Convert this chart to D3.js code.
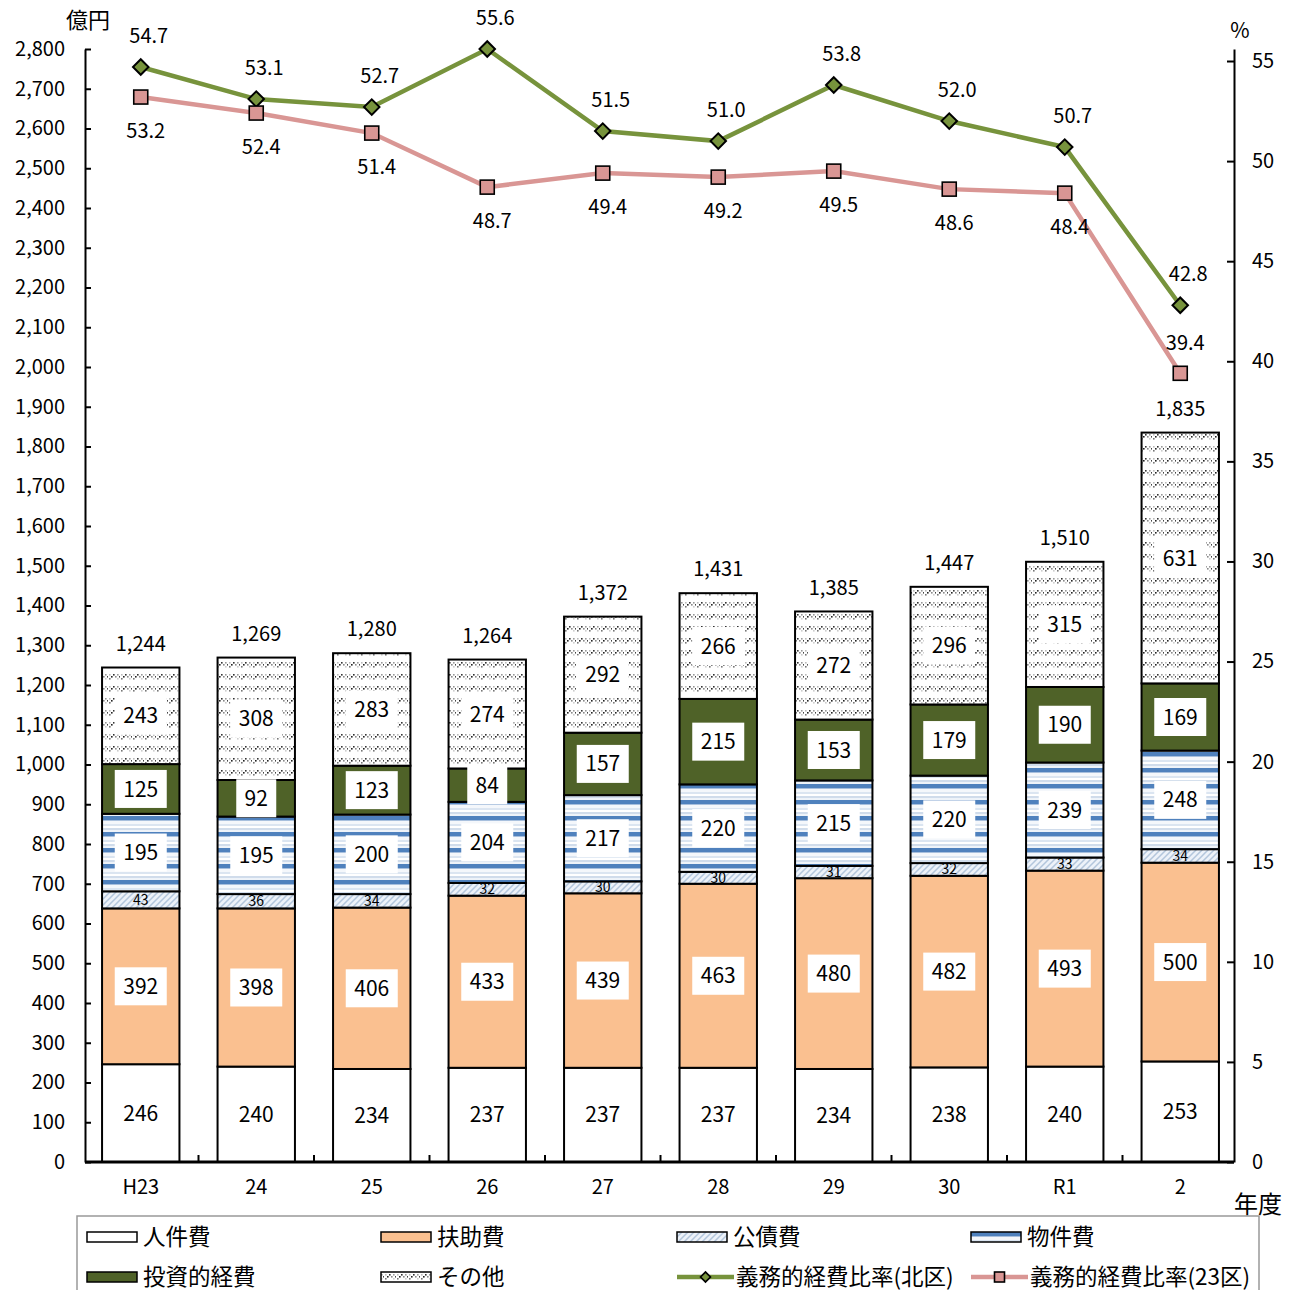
<!DOCTYPE html>
<html lang="ja">
<head>
<meta charset="utf-8">
<script src="https://cdn.jsdelivr.net/npm/d3@7"></script>
<style>
  html, body { margin: 0; padding: 0; background: #fff; }
  svg { display: block; font-family: "Noto Sans CJK JP", "Noto Sans", sans-serif; }
</style>
</head>
<body>
<svg id="chart" width="1297" height="1290"></svg>
<script>
// 年度
const years = ["H23", "24", "25", "26", "27", "28", "29", "30", "R1", "2"];

// 歳出の内訳（億円）
const personnel   = [246, 240, 234, 237, 237, 237, 234, 238, 240, 253]; // 人件費
const assistance  = [392, 398, 406, 433, 439, 463, 480, 482, 493, 500]; // 扶助費
const debtService = [43, 36, 34, 32, 30, 30, 31, 32, 33, 34];           // 公債費
const goods       = [195, 195, 200, 204, 217, 220, 215, 220, 239, 248]; // 物件費
const investment  = [125, 92, 123, 84, 157, 215, 153, 179, 190, 169];   // 投資的経費
const others      = [243, 308, 283, 274, 292, 266, 272, 296, 315, 631]; // その他
const totals      = [1244, 1269, 1280, 1264, 1372, 1431, 1385, 1447, 1510, 1835];

// 義務的経費比率（%）
const ratioKita = [54.7, 53.1, 52.7, 55.6, 51.5, 51.0, 53.8, 52.0, 50.7, 42.8];
const ratio23   = [53.2, 52.4, 51.4, 48.7, 49.4, 49.2, 49.5, 48.6, 48.4, 39.4];

// 軸目盛
const leftTicks  = d3.range(0, 2801, 100);
const rightTicks = [0, 5, 10, 15, 20, 25, 30, 35, 40, 45, 50, 55];

const svg = d3.select("#chart");
const defs = svg.append("defs");

// ---- fill patterns ----
// 公債費: pale blue diagonal hatch
const pDebt = defs.append("pattern").attr("id", "pat-debt")
  .attr("patternUnits", "userSpaceOnUse").attr("width", 6).attr("height", 6);
pDebt.append("rect").attr("width", 6).attr("height", 6).attr("fill", "#edf2f9");
pDebt.append("path").attr("d", "M0,6 L6,0 M-1,1 L1,-1 M5,7 L7,5")
  .attr("stroke", "#b3c6dc").attr("stroke-width", 1.5);

// 物件費: horizontal blue stripes
const pGoods = defs.append("pattern").attr("id", "pat-goods")
  .attr("patternUnits", "userSpaceOnUse").attr("width", 8).attr("height", 16);
[["#ffffff", 0, 16], ["#4f81bd", 0, 4], ["#a7bfdd", 4, 1], ["#f4f7fb", 5, 3],
 ["#dbe5f1", 8, 2], ["#ffffff", 10, 2], ["#d0dceb", 12, 2], ["#eef3f9", 14, 2]]
  .forEach(([c, y, h]) => pGoods.append("rect").attr("x", 0).attr("y", y)
    .attr("width", 8).attr("height", h).attr("fill", c));

// その他: bands of small dots separated by white rows
const pOther = defs.append("pattern").attr("id", "pat-other")
  .attr("patternUnits", "userSpaceOnUse").attr("width", 12).attr("height", 12);
pOther.append("rect").attr("width", 12).attr("height", 12).attr("fill", "#ffffff");
[[1, 2, "#bbb"], [5, 2, "#333"], [9, 2, "#999"], [3, 4, "#222"], [7, 4, "#888"], [11, 4, "#444"],
 [1, 6, "#777"], [9, 6, "#ccc"]]
  .forEach(([x, y, c]) => pOther.append("rect").attr("x", x).attr("y", y)
    .attr("width", 1.6).attr("height", 1.6).attr("fill", c));

const series = [
  { key: "人件費",     values: personnel,   fill: "#ffffff",         box: true },
  { key: "扶助費",     values: assistance,  fill: "#fac090",         box: true },
  { key: "公債費",     values: debtService, fill: "url(#pat-debt)",  box: false },
  { key: "物件費",     values: goods,       fill: "url(#pat-goods)", box: true },
  { key: "投資的経費", values: investment,  fill: "#4f6228",         box: true },
  { key: "その他",     values: others,      fill: "url(#pat-other)", box: true }
];

// ---- scales ----
const plotLeft = 85, plotRight = 1234, plotTop = 49, plotBottom = 1162;
const x = d3.scaleBand().domain(years).range([83, 1238])
  .paddingInner(0.33).paddingOuter(0.165);
const y = d3.scaleLinear().domain([0, 2800]).range([plotBottom, plotTop]);
const y2 = d3.scaleLinear().domain([0, 55.6]).range([plotBottom, plotTop]);

// ---- stacked bars ----
const rows = years.map((yr, i) => {
  const r = { year: yr };
  series.forEach(s => r[s.key] = s.values[i]);
  return r;
});
const stack = d3.stack().keys(series.map(s => s.key))(rows);

const barG = svg.append("g");
stack.forEach((layer, li) => {
  barG.append("g").selectAll("rect").data(layer).join("rect")
    .attr("x", d => x(d.data.year))
    .attr("y", d => y(d[1]))
    .attr("width", x.bandwidth())
    .attr("height", d => y(d[0]) - y(d[1]))
    .attr("fill", series[li].fill)
    .attr("stroke", "#000").attr("stroke-width", 2);
});

// segment labels
stack.forEach((layer, li) => {
  const s = series[li];
  const g = svg.append("g");
  layer.forEach(d => {
    const cx = x(d.data.year) + x.bandwidth() / 2;
    const cy = (y(d[0]) + y(d[1])) / 2;
    const v = d[1] - d[0];
    if (s.box) {
      const txt = String(v);
      const w = txt.length >= 3 ? 52 : 40;
      g.append("rect").attr("x", cx - w / 2).attr("y", cy - 19)
        .attr("width", w).attr("height", 38).attr("fill", "#fff");
      g.append("text").attr("x", cx).attr("y", cy).attr("dy", "0.36em")
        .attr("text-anchor", "middle").attr("font-size", 21).attr("fill", "#000")
        .text(txt);
    } else {
      g.append("text").attr("x", cx).attr("y", cy).attr("dy", "0.36em")
        .attr("text-anchor", "middle").attr("font-size", 14).attr("fill", "#000")
        .text(v);
    }
  });
});

// totals above bars
svg.append("g").selectAll("text").data(years).join("text")
  .attr("x", d => x(d) + x.bandwidth() / 2)
  .attr("y", (d, i) => y(totals[i]) - 24)
  .attr("dy", "0.36em")
  .attr("text-anchor", "middle").attr("font-size", 20)
  .text((d, i) => d3.format(",")(totals[i]));

// ---- axes ----
const axisL = svg.append("g").attr("transform", `translate(${plotLeft},0)`)
  .call(d3.axisLeft(y).tickValues(leftTicks).tickFormat(d3.format(",")).tickSizeInner(-6).tickSizeOuter(0).tickPadding(20));
axisL.select(".domain").attr("stroke", "#000").attr("stroke-width", 2);
axisL.selectAll(".tick line").attr("stroke", "#000").attr("stroke-width", 2);
axisL.selectAll(".tick text").attr("font-size", 20).attr("font-family", "Noto Sans CJK JP").attr("fill", "#000");

const axisR = svg.append("g").attr("transform", `translate(${plotRight},0)`)
  .call(d3.axisRight(y2).tickValues(rightTicks).tickSizeInner(-7).tickSizeOuter(0).tickPadding(18));
axisR.select(".domain").attr("stroke", "#000").attr("stroke-width", 2);
axisR.selectAll(".tick line").attr("stroke", "#000").attr("stroke-width", 2);
axisR.selectAll(".tick text").attr("font-size", 20).attr("font-family", "Noto Sans CJK JP").attr("fill", "#000");

const axisB = svg.append("g").attr("transform", `translate(0,${plotBottom})`)
  .call(d3.axisBottom(x).tickSize(0).tickPadding(18));
axisB.select(".domain").attr("d", `M${plotLeft},0H${plotRight}`).attr("stroke", "#000").attr("stroke-width", 3);
axisB.selectAll(".tick text").attr("font-size", 20).attr("font-family", "Noto Sans CJK JP").attr("fill", "#000");
// category boundary ticks
svg.append("g").selectAll("line").data(years.slice(1)).join("line")
  .attr("x1", d => x(d) - x.step() * x.paddingInner() / 2)
  .attr("x2", d => x(d) - x.step() * x.paddingInner() / 2)
  .attr("y1", plotBottom).attr("y2", plotBottom - 7)
  .attr("stroke", "#000").attr("stroke-width", 2);

// axis titles
svg.append("text").attr("x", 88).attr("y", 20).attr("dy", "0.36em")
  .attr("text-anchor", "middle").attr("font-size", 22).text("億円");
svg.append("text").attr("x", 1240).attr("y", 30).attr("dy", "0.36em")
  .attr("text-anchor", "middle").attr("font-size", 21).text("%");
svg.append("text").attr("x", 1258).attr("y", 1204).attr("dy", "0.36em")
  .attr("text-anchor", "middle").attr("font-size", 24).text("年度");

// ---- ratio lines ----
const cxOf = i => x(years[i]) + x.bandwidth() / 2;
const line = d3.line().x((d, i) => cxOf(i)).y(d => y2(d));

svg.append("path").datum(ratio23).attr("d", line)
  .attr("fill", "none").attr("stroke", "#d99694").attr("stroke-width", 4.5);
svg.append("path").datum(ratioKita).attr("d", line)
  .attr("fill", "none").attr("stroke", "#77933c").attr("stroke-width", 4.5);

const diamond = d3.symbol().type(d3.symbolSquare).size(120);
svg.append("g").selectAll("path").data(ratioKita).join("path")
  .attr("d", diamond())
  .attr("transform", (d, i) => `translate(${cxOf(i)},${y2(d)}) rotate(45)`)
  .attr("fill", "#77933c").attr("stroke", "#000").attr("stroke-width", 2);

svg.append("g").selectAll("rect").data(ratio23).join("rect")
  .attr("x", (d, i) => cxOf(i) - 7).attr("y", d => y2(d) - 7)
  .attr("width", 14).attr("height", 14)
  .attr("fill", "#d99694").attr("stroke", "#000").attr("stroke-width", 1.6);

// ratio labels: 北区 above, 23区 below (the last one sits above its marker)
svg.append("g").selectAll("text").data(ratioKita).join("text")
  .attr("x", (d, i) => cxOf(i) + 8).attr("y", d => y2(d) - 31).attr("dy", "0.36em")
  .attr("text-anchor", "middle").attr("font-size", 20)
  .text(d => d.toFixed(1));
svg.append("g").selectAll("text").data(ratio23).join("text")
  .attr("x", (d, i) => cxOf(i) + 5)
  .attr("y", (d, i) => i === ratio23.length - 1 ? y2(d) - 30 : y2(d) + 34)
  .attr("dy", "0.36em")
  .attr("text-anchor", "middle").attr("font-size", 20)
  .text(d => d.toFixed(1));

// ---- legend ----
const legend = svg.append("g");
legend.append("rect").attr("x", 77).attr("y", 1216).attr("width", 1182).attr("height", 90)
  .attr("fill", "none").attr("stroke", "#999").attr("stroke-width", 1.5);

const colX = [87, 381, 677, 971];
const rowY = [1237, 1277];
const legendItems = [
  { label: "人件費", kind: "bar", fill: "#ffffff" },
  { label: "扶助費", kind: "bar", fill: "#fac090" },
  { label: "公債費", kind: "bar", fill: "url(#pat-debt)" },
  { label: "物件費", kind: "bar", fill: "url(#pat-goods)" },
  { label: "投資的経費", kind: "bar", fill: "#4f6228" },
  { label: "その他", kind: "bar", fill: "url(#pat-other)" },
  { label: "義務的経費比率(北区)", kind: "diamond", color: "#77933c" },
  { label: "義務的経費比率(23区)", kind: "square", color: "#d99694" }
];
legendItems.forEach((it, i) => {
  const lx = colX[i % 4], ly = rowY[Math.floor(i / 4)];
  const g = legend.append("g");
  if (it.kind === "bar") {
    g.append("rect").attr("x", lx).attr("y", ly - 5).attr("width", 50).attr("height", 10)
      .attr("fill", it.fill).attr("stroke", "#000").attr("stroke-width", 1.5);
    g.append("text").attr("x", lx + 56).attr("y", ly).attr("dy", "0.36em")
      .attr("font-size", 22.5).text(it.label);
  } else {
    g.append("line").attr("x1", lx).attr("x2", lx + 57).attr("y1", ly).attr("y2", ly)
      .attr("stroke", it.color).attr("stroke-width", 4.5);
    if (it.kind === "diamond") {
      g.append("path").attr("d", d3.symbol().type(d3.symbolSquare).size(50)())
        .attr("transform", `translate(${lx + 28.5},${ly}) rotate(45)`)
        .attr("fill", it.color).attr("stroke", "#000").attr("stroke-width", 1.6);
    } else {
      g.append("rect").attr("x", lx + 28.5 - 5).attr("y", ly - 5).attr("width", 10).attr("height", 10)
        .attr("fill", it.color).attr("stroke", "#000").attr("stroke-width", 1.6);
    }
    g.append("text").attr("x", lx + 59).attr("y", ly).attr("dy", "0.36em")
      .attr("font-size", 22.5).text(it.label);
  }
});
</script>
</body>
</html>
